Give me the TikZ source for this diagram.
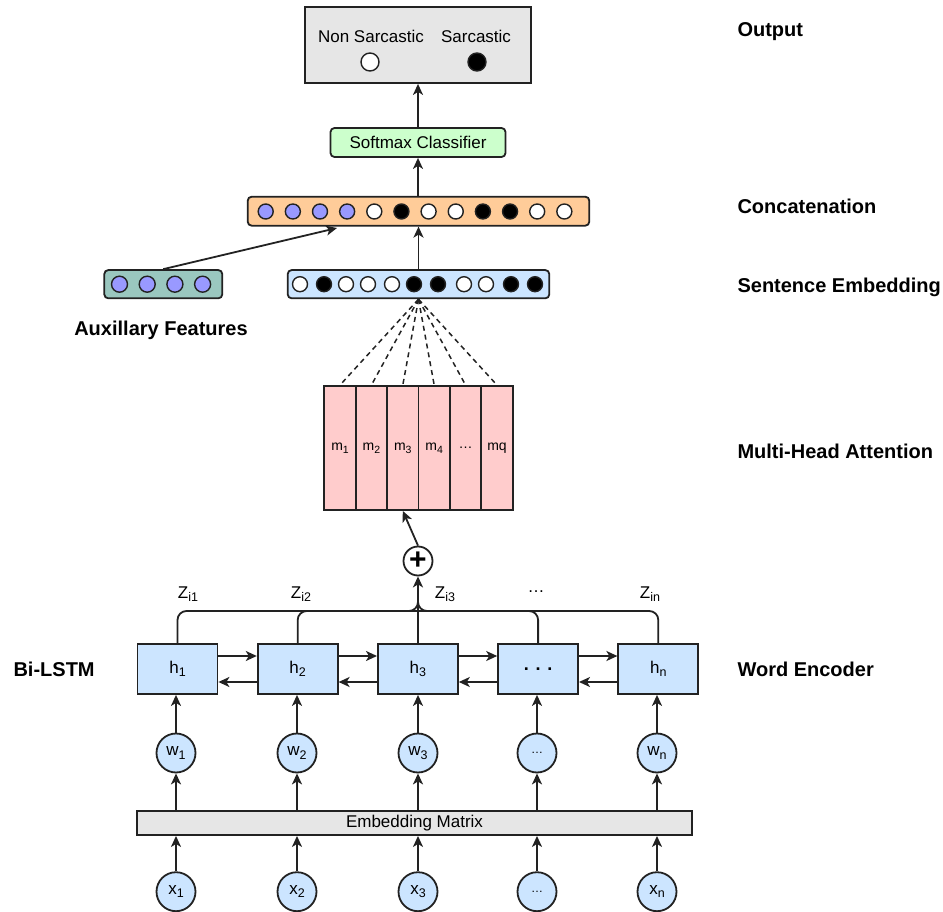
\documentclass[tikz,border=0pt]{standalone}
\usepackage{fontspec}
\setmainfont{Liberation Sans}
\usetikzlibrary{arrows.meta}
\definecolor{linec}{HTML}{222222}
\definecolor{greyf}{HTML}{E6E6E6}
\definecolor{softf}{HTML}{CCFFCC}
\definecolor{catf}{HTML}{FFCC99}
\definecolor{bluef}{HTML}{CCE5FF}
\definecolor{auxf}{HTML}{9AC7BF}
\definecolor{purf}{HTML}{9999FF}
\definecolor{mf}{HTML}{FFCCCC}
\newcommand\lowsub[1]{\raisebox{-0.35ex}{\fontsize{12.5}{13}\selectfont #1}}
\newcommand\msub[1]{\raisebox{-0.35ex}{\fontsize{10.5}{11}\selectfont #1}}

\begin{document}
\begin{tikzpicture}[x=1pt,y=-1pt,
  font=\fontsize{17}{20}\selectfont,
  box/.style={draw=linec,line width=1.8pt,inner sep=0pt},
  dot/.style={circle,draw=linec,line width=1.4pt,minimum size=15pt,inner sep=0pt},
  tok/.style={circle,draw=linec,line width=1.8pt,fill=bluef,minimum size=39pt,inner sep=0pt},
  wire/.style={draw=linec,line width=1.8pt},
  arr/.style={wire,-{Stealth[length=11pt,width=10pt,inset=3pt]}},
  dashline/.style={wire,line width=1.5pt,dash pattern=on 5pt off 4pt},
  lab/.style={font=\bfseries\fontsize{20}{24}\selectfont,anchor=west}]
\useasboundingbox (0,0) rectangle (943,912);

  % output and classifier
  \node[box,fill=greyf,minimum width=226pt,minimum height=76pt] (out) at (418,45) {};
  \node (nsarc) at (371,36) {Non Sarcastic};
  \node (sarc) at (476,36) {Sarcastic};
  \node[dot,fill=white,minimum size=18pt] (onon) at (370,62) {};
  \node[dot,fill=black,minimum size=18pt] (oyes) at (477,62) {};
  \node[box,fill=softf,rounded corners=4pt,minimum width=175pt,minimum height=29pt] (soft) at (418,142.5) {Softmax Classifier};
  \draw[arr] (soft.north) -- (out.south);

  % concatenation
  \node[box,fill=catf,rounded corners=4pt,minimum width=341.6pt,minimum height=29pt] (cat) at (418.5,211.2) {};
  \foreach \c [count=\i from 0] in {purf,purf,purf,purf,white,black,white,white,black,black,white,white}
    \node[dot,fill=\c] (c\i) at ({265.7+27.15*\i},211.5) {};
  \draw[arr] (cat.north -| soft) -- (soft.south);

  % sentence embedding and auxillary features
  \node[box,fill=bluef,rounded corners=4pt,minimum width=261.6pt,minimum height=28.3pt] (sent) at (418.5,284.2) {};
  \foreach \px/\c in {300/white,324/black,346/white,368/white,392/white,414/black,438/black,464/white,486/white,511/black,535/black}
    \node[dot,fill=\c] (s\px) at (\px,284.2) {};
  \node[box,fill=auxf,rounded corners=4pt,minimum width=118pt,minimum height=28.3pt] (aux) at (163.3,284.2) {};
  \foreach \i in {0,...,3}
    \node[dot,fill=purf,minimum size=16pt] (a\i) at ({119.5+27.7*\i},284.2) {};
  \coordinate (catin) at (337,228);
  \draw[arr] (sent.north) -- (cat.south -| sent);
  \draw[arr] (aux.north) -- (catin);

  % multi-head attention
  \foreach \lab [count=\i] in {m\msub{1},m\msub{2},m\msub{3},m\msub{4},\ldots,mq}
    \node[box,fill=mf,minimum width=31.4pt,minimum height=124pt,font=\fontsize{14}{16}\selectfont] (m\i) at ({324.3+31.4*(\i-0.5)},448) {\lab};
  \foreach \i in {1,...,6}
    \draw[dashline] (sent.south) -- (m\i.north);
  \node[box,circle,fill=white,minimum size=29pt] (plus) at (418,561) {\bfseries\fontsize{30}{30}\selectfont +};
  \draw[arr] (plus.north) -- (m3.south);

  % word encoder
  \node[box,fill=bluef,minimum width=80pt,minimum height=50pt] (h1) at (177.5,669) {h\lowsub{1}};
  \node[box,fill=bluef,minimum width=80pt,minimum height=50pt] (h2) at (297.7,669) {h\lowsub{2}};
  \node[box,fill=bluef,minimum width=80pt,minimum height=50pt] (h3) at (417.9,669) {h\lowsub{3}};
  \node[box,fill=bluef,minimum width=80pt,minimum height=50pt] (h4) at (538.1,669) {\bfseries\fontsize{18}{18}\selectfont . . .};
  \node[box,fill=bluef,minimum width=80pt,minimum height=50pt] (h5) at (658.3,669) {h\lowsub{n}};
  \foreach \a/\b in {h1/h2,h2/h3,h3/h4,h4/h5} {
    \draw[arr] ([yshift=13pt]\a.east) -- ([yshift=13pt]\b.west);
    \draw[arr] ([yshift=-13pt]\b.west) -- ([yshift=-13pt]\a.east);
  }
  \coordinate (zj) at (418,611);
  \coordinate (zt) at (418,596);
  \draw[wire,rounded corners=9pt] (h1.north) |- (zj) -- (zt);
  \draw[wire,rounded corners=9pt] (h5.north) |- (zj) -- (zt);
  \draw[wire,rounded corners=9pt] (h2.north) |- (zj);
  \draw[wire,rounded corners=9pt] (h4.north) |- (zj);
  \draw[arr] (h3.north) -- (plus.south);
  \node (z1) at (188,594) {Z\lowsub{i1}};
  \node (z2) at (301,594) {Z\lowsub{i2}};
  \node (z3) at (445,594) {Z\lowsub{i3}};
  \node (z4) at (536,592) {\ldots};
  \node (z5) at (650,594) {Z\lowsub{in}};

  % words and inputs
  \node[tok] (w1) at (176,753) {w\lowsub{1}};
  \node[tok] (w2) at (297,753) {w\lowsub{2}};
  \node[tok] (w3) at (418,753) {w\lowsub{3}};
  \node[tok,font=\fontsize{12}{14}\selectfont] (w4) at (537,753) {\ldots};
  \node[tok] (w5) at (657,753) {w\lowsub{n}};
  \node[box,fill=greyf,minimum width=554.4pt,minimum height=24.3pt] (emb) at (414.5,822.9) {Embedding Matrix};
  \node[tok] (x1) at (176,891.7) {x\lowsub{1}};
  \node[tok] (x2) at (297,891.7) {x\lowsub{2}};
  \node[tok] (x3) at (418,891.7) {x\lowsub{3}};
  \node[tok,font=\fontsize{12}{14}\selectfont] (x4) at (537,891.7) {\ldots};
  \node[tok] (x5) at (657,891.7) {x\lowsub{n}};
  \foreach \i in {1,...,5} {
    \draw[arr] (x\i.north) -- (emb.south -| x\i);
    \draw[arr] (emb.north -| w\i) -- (w\i.south);
    \draw[arr] (w\i.north) -- (h\i.south -| w\i);
  }

  % side labels
  \node[lab] (lout) at (734,32) {Output};
  \node[lab] (lcat) at (734,206) {Concatenation};
  \node[lab] (lsent) at (734,287) {Sentence Embedding};
  \node[lab] (latt) at (734,451) {Multi-Head Attention};
  \node[lab] (lenc) at (734,669) {Word Encoder};
  \node[lab] (lbi) at (10,669) {Bi-LSTM};
  \node[lab,anchor=center] (laux) at (161,330) {Auxillary Features};
\end{tikzpicture}
\end{document}
